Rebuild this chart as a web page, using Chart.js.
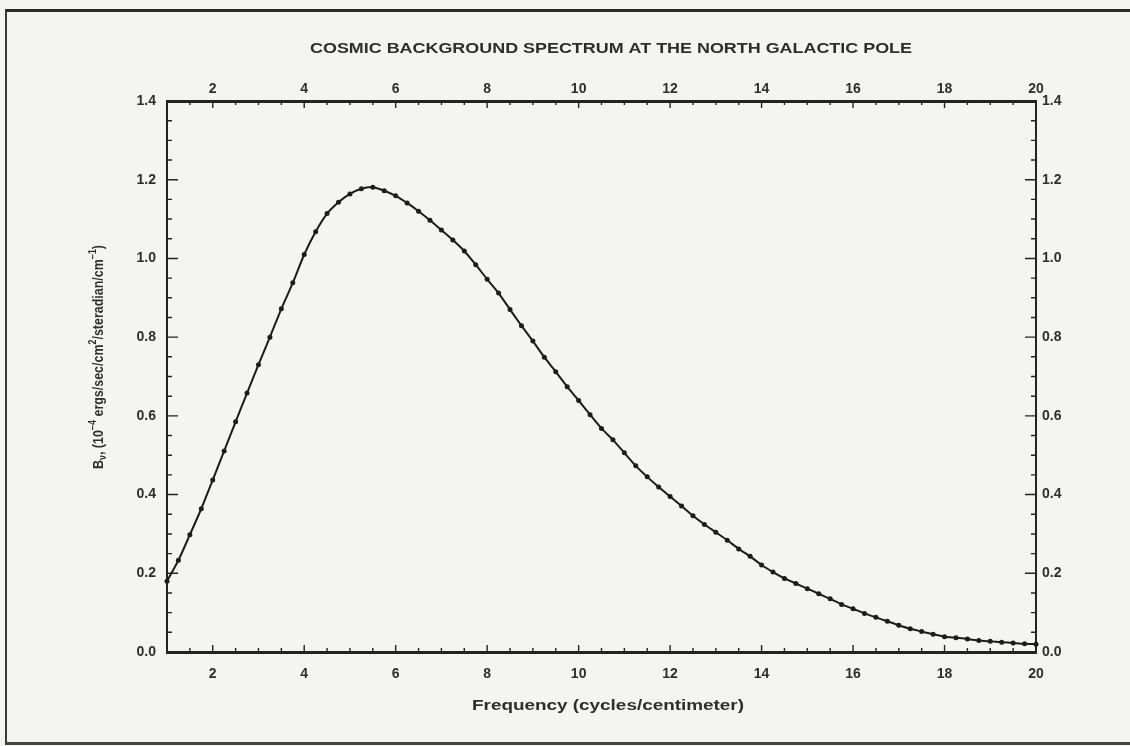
<!DOCTYPE html>
<html>
<head>
<meta charset="utf-8">
<script src="https://cdn.jsdelivr.net/npm/chart.js@4.4.0/dist/chart.umd.min.js"></script>
<style>
  html, body { margin: 0; padding: 0; background: #f4f4f3; }
  #wrap { position: relative; width: 1130px; height: 746px; overflow: hidden; }
  #frame { position: absolute; left: 5px; top: 9px; width: 1130px; height: 730px;
           border-top: 3px solid #2b2b2b; border-left: 2px solid #3a3a3a; border-bottom: 3px solid #444; }
  canvas { position: absolute; left: 0; top: 0; }
</style>
</head>
<body>
<div id="wrap">
  <div id="frame"></div>
  <canvas id="spectrum" width="1130" height="746"></canvas>
</div>
<script>
// cycles/centimeter
const frequency = [
  1.00, 1.25, 1.50, 1.75, 2.00, 2.25, 2.50, 2.75, 3.00, 3.25, 3.50, 3.75,
  4.00, 4.25, 4.50, 4.75, 5.00, 5.25, 5.50, 5.75, 6.00, 6.25, 6.50, 6.75,
  7.00, 7.25, 7.50, 7.75, 8.00, 8.25, 8.50, 8.75, 9.00, 9.25, 9.50, 9.75,
  10.00, 10.25, 10.50, 10.75, 11.00, 11.25, 11.50, 11.75, 12.00, 12.25, 12.50, 12.75,
  13.00, 13.25, 13.50, 13.75, 14.00, 14.25, 14.50, 14.75, 15.00, 15.25, 15.50, 15.75,
  16.00, 16.25, 16.50, 16.75, 17.00, 17.25, 17.50, 17.75, 18.00, 18.25, 18.50, 18.75,
  19.00, 19.25, 19.50, 19.75, 20.00
];
// B_nu, 10^-4 ergs/sec/cm^2/steradian/cm^-1
const brightness = [
  0.180, 0.233, 0.298, 0.364, 0.437, 0.511, 0.585, 0.658, 0.730, 0.800, 0.872, 0.938,
  1.010, 1.068, 1.114, 1.143, 1.164, 1.177, 1.181, 1.172, 1.159, 1.141, 1.120, 1.097,
  1.072, 1.047, 1.019, 0.984, 0.947, 0.912, 0.870, 0.829, 0.790, 0.749, 0.712, 0.674,
  0.639, 0.603, 0.568, 0.539, 0.506, 0.473, 0.445, 0.419, 0.395, 0.371, 0.346, 0.324,
  0.304, 0.284, 0.262, 0.243, 0.221, 0.203, 0.187, 0.174, 0.161, 0.148, 0.135, 0.121,
  0.110, 0.098, 0.088, 0.078, 0.068, 0.059, 0.052, 0.045, 0.039, 0.036, 0.033, 0.029,
  0.027, 0.025, 0.023, 0.021, 0.020
];
const xTickValues = [2, 4, 6, 8, 10, 12, 14, 16, 18, 20];
const yTickValues = [0, 0.2, 0.4, 0.6, 0.8, 1.0, 1.2, 1.4];

const chartTitle = 'COSMIC BACKGROUND SPECTRUM AT THE NORTH GALACTIC POLE';
const xTitle = 'Frequency (cycles/centimeter)';
const yTitleParts = [
  { t: 'B' }, { t: 'ν', sub: true }, { t: ', (10' }, { t: '−4', sup: true },
  { t: ' ergs/sec/cm' }, { t: '2', sup: true }, { t: '/steradian/cm' }, { t: '−1', sup: true }, { t: ')' }
];

const FONT = 'Liberation Sans, Arial, Helvetica, sans-serif';
const INK = '#232323';
const TEXT = '#2e2e2e';

// draw text squeezed/stretched to a given width, like the old plotter lettering
function fitText(ctx, text, cx, cy, width) {
  const w = ctx.measureText(text).width;
  ctx.save();
  ctx.translate(cx, cy);
  ctx.scale(width / w, 1);
  ctx.fillText(text, 0, 0);
  ctx.restore();
}

const decorations = {
  id: 'decorations',
  afterDatasetsDraw(chart) {
    const { ctx, chartArea: a, scales: { x, y } } = chart;
    ctx.save();
    ctx.strokeStyle = INK;
    ctx.lineWidth = 1.4;
    ctx.beginPath();
    // inward ticks, minor every 0.5 on x, every 0.05 on y
    for (let i = 1; i < 38; i++) {
      const v = 1 + i * 0.5;
      const px = x.getPixelForValue(v);
      const len = v % 2 === 0 ? 7 : 4;
      ctx.moveTo(px, a.bottom); ctx.lineTo(px, a.bottom - len);
      ctx.moveTo(px, a.top); ctx.lineTo(px, a.top + len);
    }
    for (let i = 1; i < 28; i++) {
      const py = y.getPixelForValue(i * 0.05);
      const len = i % 4 === 0 ? 11 : 5;
      ctx.moveTo(a.left, py); ctx.lineTo(a.left + len, py);
      ctx.moveTo(a.right, py); ctx.lineTo(a.right - len, py);
    }
    ctx.stroke();
    ctx.restore();
  },
  afterDraw(chart) {
    const { ctx } = chart;
    ctx.save();
    ctx.fillStyle = TEXT;
    ctx.textBaseline = 'middle';
    ctx.textAlign = 'center';

    ctx.font = 'bold 14px ' + FONT;
    fitText(ctx, chartTitle, 611, 49, 602);
    ctx.font = 'bold 14px ' + FONT;
    fitText(ctx, xTitle, 608, 706, 272);

    // y title with sub/superscripts, rotated
    const big = 'bold 14px ' + FONT, small = 'bold 10px ' + FONT;
    let total = 0;
    yTitleParts.forEach(p => {
      ctx.font = (p.sub || p.sup) ? small : big;
      p.w = ctx.measureText(p.t).width;
      total += p.w;
    });
    const target = 224;
    ctx.translate(99, 357);
    ctx.rotate(-Math.PI / 2);
    ctx.scale(target / total, 1);
    ctx.textAlign = 'left';
    let cx = -total / 2;
    yTitleParts.forEach(p => {
      ctx.font = (p.sub || p.sup) ? small : big;
      const dy = p.sup ? -6 : (p.sub ? 4 : 0);
      ctx.fillText(p.t, cx, dy);
      cx += p.w;
    });
    ctx.restore();
  }
};

const tickFont = { family: FONT, size: 14, weight: 'bold' };

new Chart(document.getElementById('spectrum'), {
  type: 'line',
  data: {
    datasets: [{
      data: frequency.map((f, i) => ({ x: f, y: brightness[i] })),
      borderColor: '#1c1c1c',
      borderWidth: 2,
      pointRadius: 2.5,
      pointBackgroundColor: '#1c1c1c',
      pointBorderWidth: 0,
      tension: 0.2,
      clip: false
    }]
  },
  options: {
    responsive: false,
    animation: false,
    layout: { padding: { left: 107, right: 44, top: 69, bottom: 62 } },
    plugins: { legend: { display: false }, tooltip: { enabled: false } },
    scales: {
      x: {
        type: 'linear', position: 'bottom', min: 1, max: 20,
        afterBuildTicks: s => { s.ticks = xTickValues.map(v => ({ value: v })); },
        afterFit: s => { s.height = 32; },
        grid: { display: false, drawTicks: false },
        border: { display: true, color: INK, width: 3 },
        ticks: { font: tickFont, color: TEXT, padding: 14, maxRotation: 0 }
      },
      x2: {
        type: 'linear', position: 'top', min: 1, max: 20,
        afterBuildTicks: s => { s.ticks = xTickValues.map(v => ({ value: v })); },
        afterFit: s => { s.height = 32; },
        grid: { display: false, drawTicks: false },
        border: { display: true, color: INK, width: 3 },
        ticks: { font: tickFont, color: TEXT, padding: 3, maxRotation: 0 }
      },
      y: {
        type: 'linear', position: 'left', min: 0, max: 1.4,
        afterBuildTicks: s => { s.ticks = yTickValues.map(v => ({ value: v })); },
        afterFit: s => { s.width = 60; },
        grid: { display: false, drawTicks: false },
        border: { display: true, color: INK, width: 2 },
        ticks: { font: tickFont, color: TEXT, padding: 11, callback: v => v.toFixed(1) }
      },
      y2: {
        type: 'linear', position: 'right', min: 0, max: 1.4,
        afterBuildTicks: s => { s.ticks = yTickValues.map(v => ({ value: v })); },
        afterFit: s => { s.width = 50; },
        grid: { display: false, drawTicks: false },
        border: { display: true, color: INK, width: 2 },
        ticks: { font: tickFont, color: TEXT, padding: 6, callback: v => v.toFixed(1) }
      }
    }
  },
  plugins: [decorations]
});
</script>
</body>
</html>
